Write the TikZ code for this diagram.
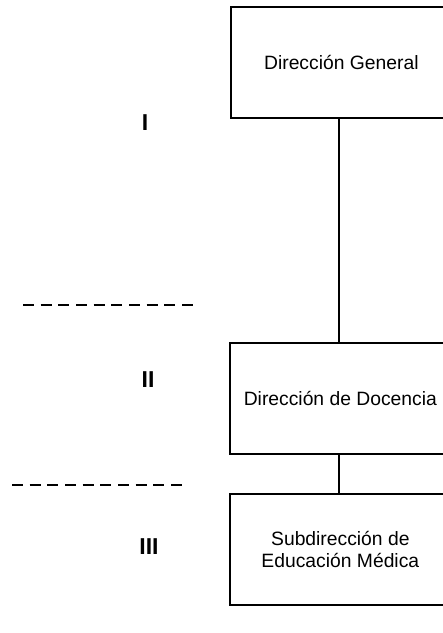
\documentclass[tikz,border=0pt]{standalone}
\usepackage{fontspec}
\setmainfont{Liberation Sans}
\begin{document}
\begin{tikzpicture}[x=1pt,y=-1pt,
  orgbox/.style={draw=black,line width=1.7pt,minimum width=221pt,minimum height=111pt,anchor=north west,inner sep=0pt,align=center,font=\fontsize{19.3}{22.5}\selectfont},
  level/.style={font=\bfseries\fontsize{23}{26}\selectfont,inner sep=0pt},
  sep/.style={line width=1.4pt,dash pattern=on 11pt off 6.67pt},
  link/.style={line width=1.7pt}]
\useasboundingbox (0,0) rectangle (443,633);
\node[orgbox] (dg) at (230,6) {Dirección General};
\node[orgbox] (dd) at (229,342) {Dirección de Docencia};
\node[orgbox] (sem) at (229,493) {Subdirección de\\Educación Médica};
\coordinate (dgb) at (339,117);
\coordinate (ddt) at (339,342);
\coordinate (ddb) at (339,453);
\coordinate (semt) at (339,493);
\draw[link] (dgb) -- (ddt);
\draw[link] (ddb) -- (semt);
\node[level] (l1) at (145,123) {I};
\node[level] (l2) at (148,380) {II};
\node[level] (l3) at (149,547) {III};
\coordinate (s1a) at (23,305);
\coordinate (s1b) at (193,305);
\coordinate (s2a) at (12,485);
\coordinate (s2b) at (182,485);
\draw[sep] (s1a) -- (s1b);
\draw[sep] (s2a) -- (s2b);
\end{tikzpicture}
\end{document}
